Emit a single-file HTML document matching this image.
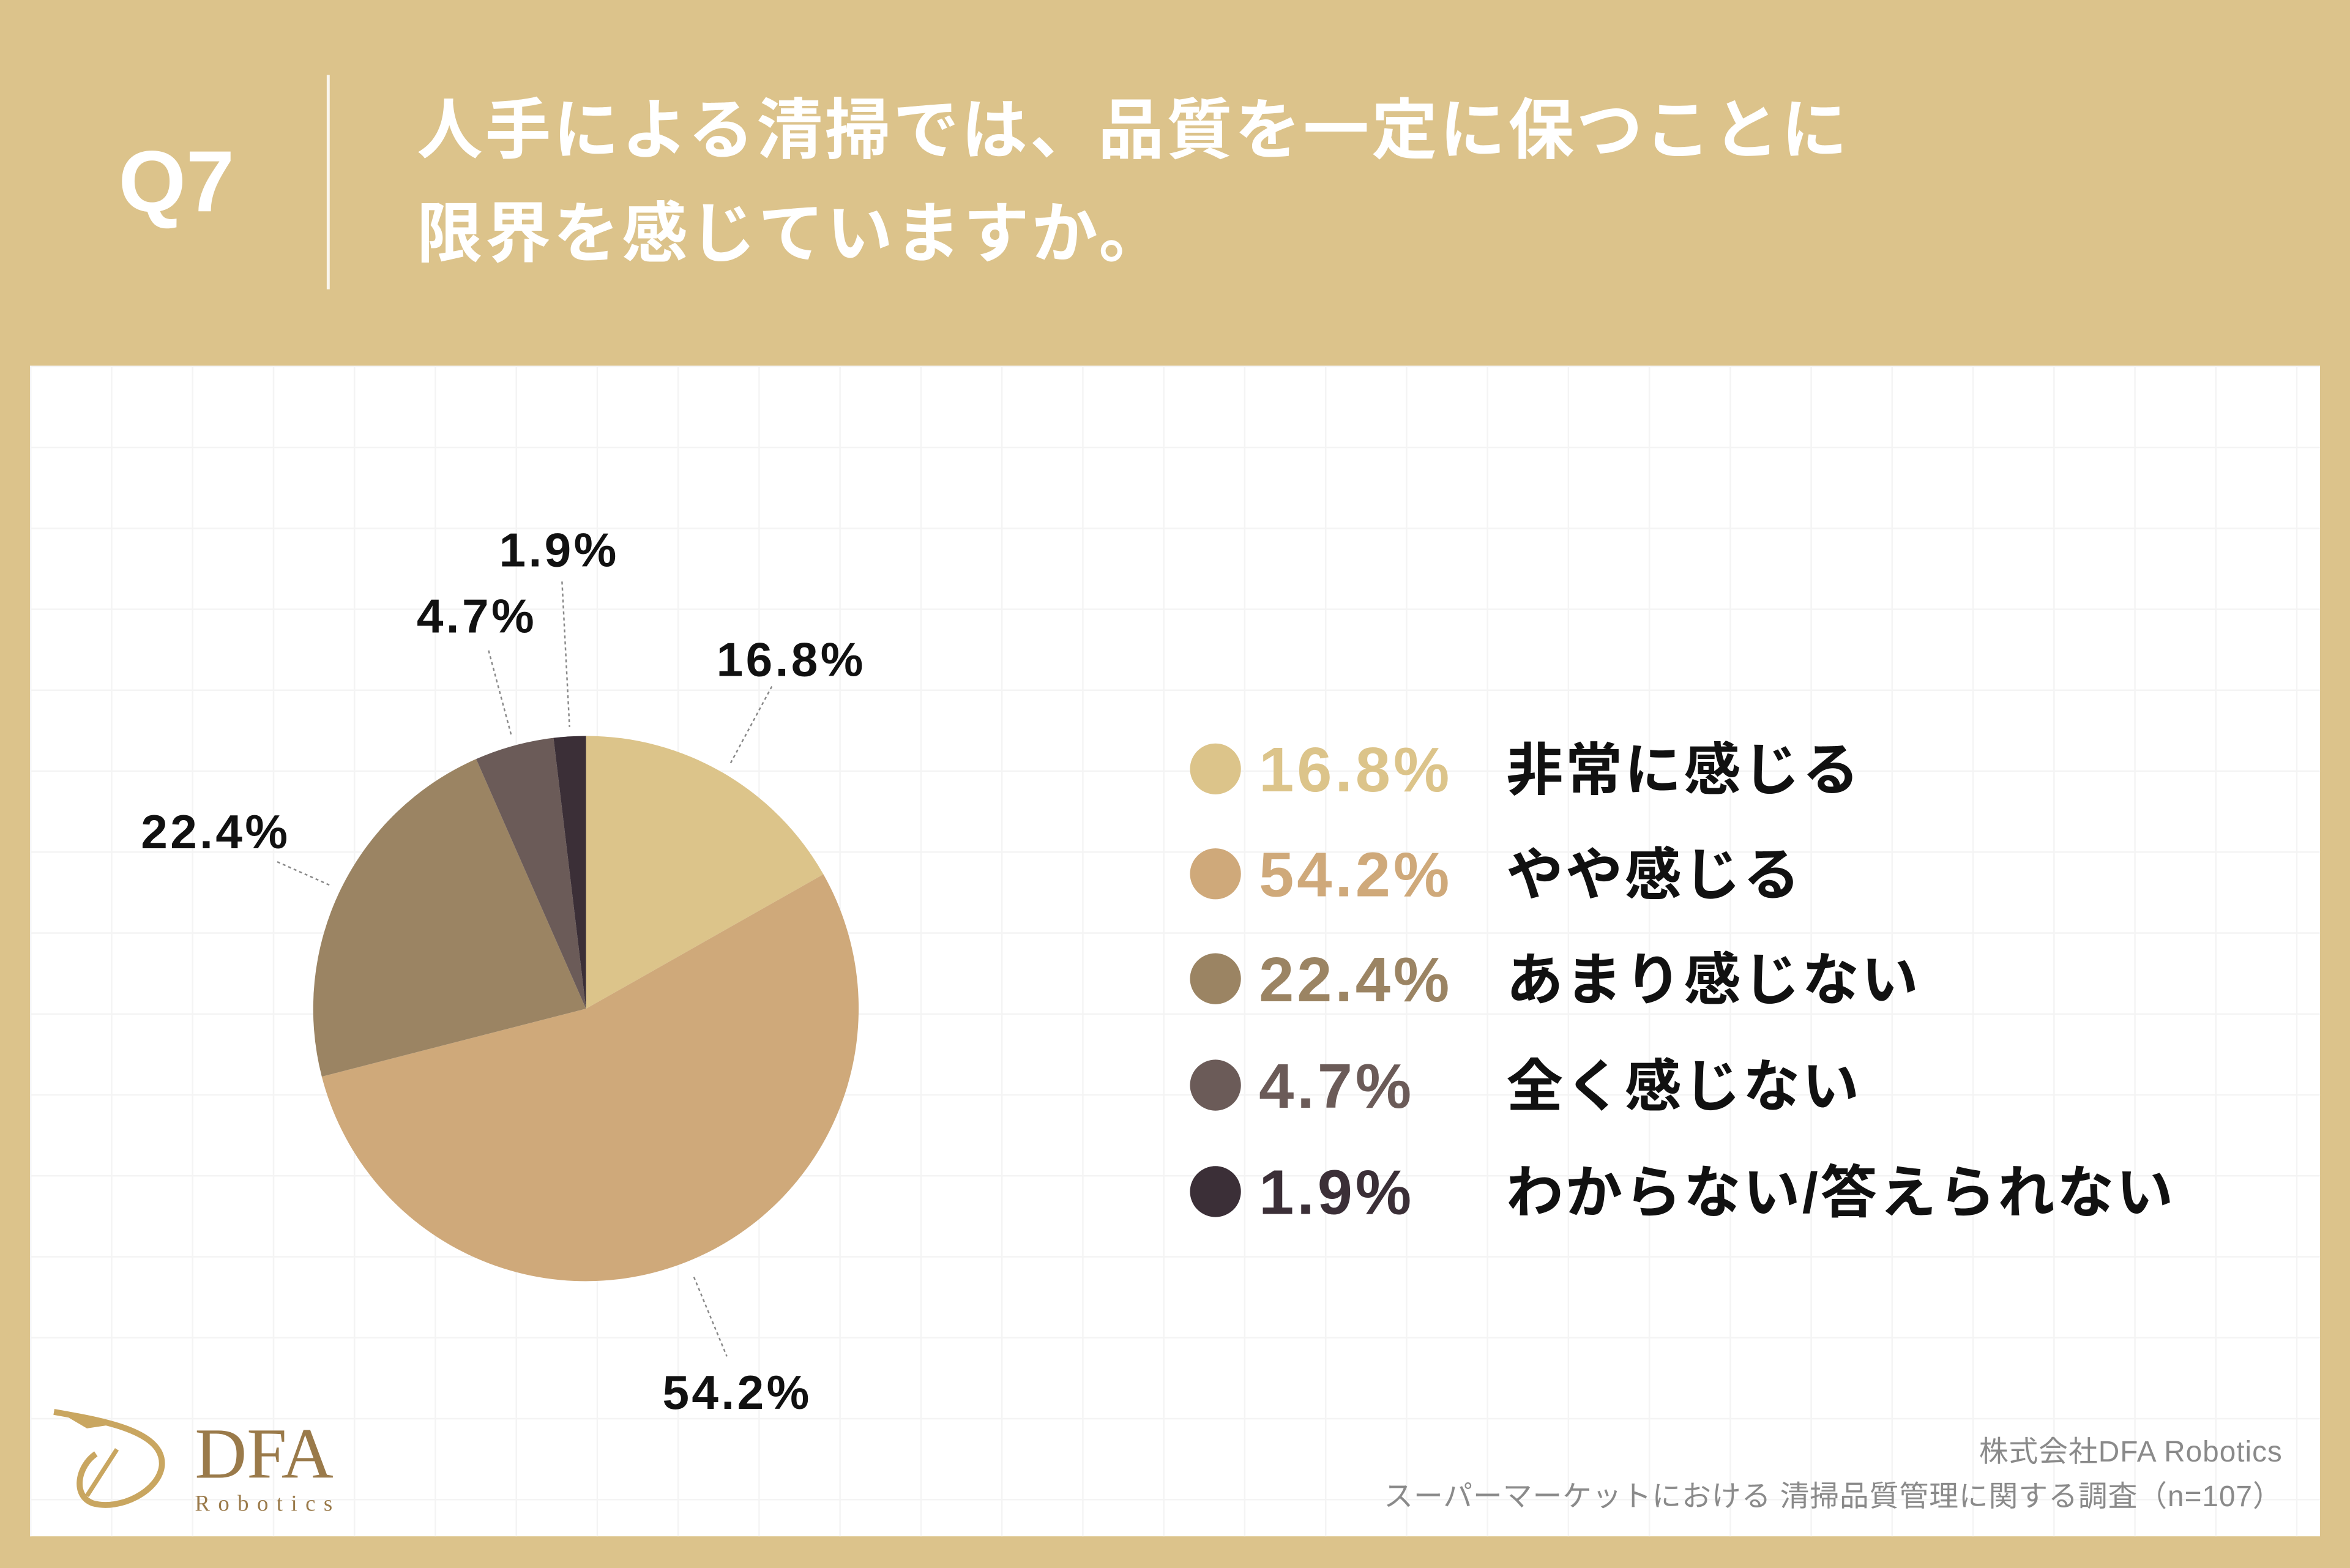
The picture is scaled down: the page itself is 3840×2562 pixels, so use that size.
<!DOCTYPE html>
<html><head><meta charset="utf-8"><style>
html,body{margin:0;padding:0;width:3840px;height:2560px;overflow:hidden;background:#dcc38b;}
#w{position:absolute;left:0;top:0;width:1568px;height:1045.3px;transform:scale(2.44898);transform-origin:0 0;font-family:"Liberation Sans","Noto Sans CJK JP",sans-serif;}
.panel{position:absolute;left:20px;top:244px;width:1528px;height:781px;background-color:#fff;
background-image:linear-gradient(#f4f4f4 1px,transparent 1px),linear-gradient(90deg,#f4f4f4 1px,transparent 1px);background-size:54px 54px;}
.t{position:absolute;white-space:nowrap;font-weight:bold;}
</style></head><body><div id="w">
<div class="t" style="left:79px;top:88px;font-size:58px;color:#fff;">Q7</div>
<div style="position:absolute;left:218px;top:50px;width:2px;height:143px;background:#fff;opacity:.85"></div>
<div class="t" style="left:278px;top:53px;font-size:44px;letter-spacing:1.6px;color:#fff;line-height:69px;">人手による清掃では、品質を一定に保つことに<br>限界を感じていますか。</div>
<div class="panel"></div>
<svg style="position:absolute;left:0;top:0" width="1568" height="1046" viewBox="0 0 1568 1046">
<path d="M391,673 L391,491 A182,182 0 0 1 549.4,583.3 Z" fill="#dcc48a"/>
<path d="M391,673 L549.4,583.3 A182,182 0 1 1 214.7,718.3 Z" fill="#cfa97a"/>
<path d="M391,673 L214.7,718.3 A182,182 0 0 1 317.7,506.4 Z" fill="#9b8463"/>
<path d="M391,673 L317.7,506.4 A182,182 0 0 1 369.3,492.3 Z" fill="#6b5b58"/>
<path d="M391,673 L369.3,492.3 A182,182 0 0 1 391,491 Z" fill="#3b2f37"/>
<g stroke="#888" stroke-width="1" stroke-dasharray="2,2" fill="none">
<line x1="515" y1="458" x2="487" y2="510"/>
<line x1="463" y1="852" x2="485" y2="905"/>
<line x1="185" y1="575" x2="221" y2="591"/>
<line x1="326" y1="434" x2="341" y2="490"/>
<line x1="375" y1="388" x2="380" y2="485"/>
</g>
<g font-family="Liberation Sans, sans-serif" font-weight="bold" font-size="32" letter-spacing="1.8" fill="#111">
<text x="478" y="451">16.8%</text>
<text x="442" y="940">54.2%</text>
<text x="94" y="566">22.4%</text>
<text x="278" y="422">4.7%</text>
<text x="333" y="378">1.9%</text>
</g>
<circle cx="811" cy="513" r="17" fill="#dcc48a"/>
<circle cx="811" cy="583" r="17" fill="#cfa97a"/>
<circle cx="811" cy="653" r="17" fill="#9b8463"/>
<circle cx="811" cy="724" r="17" fill="#6b5b58"/>
<circle cx="811" cy="795" r="17" fill="#3b2f37"/>
<g font-family="Liberation Sans, sans-serif" font-weight="bold" font-size="42" letter-spacing="2">
<text x="840" y="528" fill="#dcc48a">16.8%</text>
<text x="840" y="598" fill="#cfa97a">54.2%</text>
<text x="840" y="668" fill="#9b8463">22.4%</text>
<text x="840" y="739" fill="#6b5b58">4.7%</text>
<text x="840" y="810" fill="#3b2f37">1.9%</text>
</g>
<g font-family="Liberation Sans, Noto Sans CJK JP, sans-serif" font-weight="bold" font-size="38" letter-spacing="1.5" fill="#111">
<text x="1005" y="527">非常に感じる</text>
<text x="1005" y="597">やや感じる</text>
<text x="1005" y="667">あまり感じない</text>
<text x="1005" y="738">全く感じない</text>
<text x="1005" y="809">わからない/答えられない</text>
</g>
<g font-family="Liberation Sans, Noto Sans CJK JP, sans-serif" font-size="19.5" letter-spacing="0.4" fill="#8a8a8a" text-anchor="end">
<text x="1523" y="975">株式会社DFA Robotics</text>
<text x="1523" y="1005">スーパーマーケットにおける 清掃品質管理に関する調査（n=107）</text>
</g>
<g fill="none" stroke="#c9a660" stroke-width="4">
<path d="M36,942 C70,948 110,955 108,978 C106,995 80,1008 62,1003 C48,998 52,978 64,970"/>
<path d="M78,967 L58,998" stroke-width="3"/>
</g>
<path d="M36,940 L78,950 L58,953 Z" fill="#c9a660"/>
<text x="130" y="986" font-family="Liberation Serif, serif" font-size="48" fill="#9a7a4a">DFA</text>
<text x="130" y="1008" font-family="Liberation Serif, serif" font-size="15" letter-spacing="5.5" fill="#9a7a4a">Robotics</text>
</svg>
</div></body></html>
